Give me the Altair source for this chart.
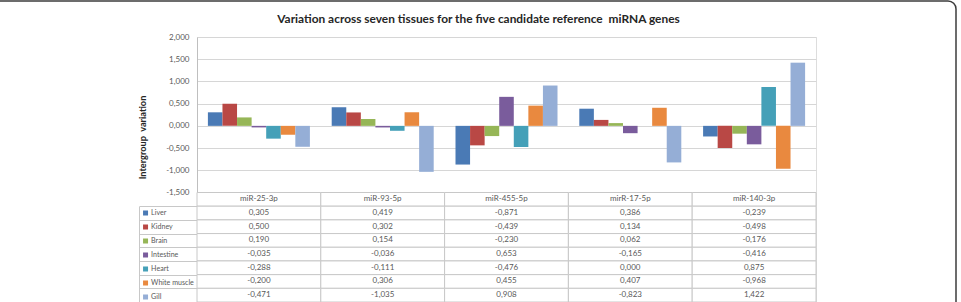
import altair as alt
import pandas as pd

# miRNA genes (columns) and tissues (series)
genes = ["miR-25-3p", "miR-93-5p", "miR-455-5p", "mirR-17-5p", "miR-140-3p"]
tissues = ["Liver", "Kidney", "Brain", "Intestine", "Heart", "White muscle", "Gill"]

# intergroup variation per tissue, one value per gene
liver = [0.305, 0.419, -0.871, 0.386, -0.239]
kidney = [0.500, 0.302, -0.439, 0.134, -0.498]
brain = [0.190, 0.154, -0.230, 0.062, -0.176]
intestine = [-0.035, -0.036, 0.653, -0.165, -0.416]
heart = [-0.288, -0.111, -0.476, 0.000, 0.875]
white_muscle = [-0.200, 0.306, 0.455, 0.407, -0.968]
gill = [-0.471, -1.035, 0.908, -0.823, 1.422]

tissue_colors = ["#4a7ab5", "#b94845", "#96b657", "#7a5c9c", "#45a0b8", "#e9893f", "#95aed6"]
y_ticks = [-1.5, -1.0, -0.5, 0.0, 0.5, 1.0, 1.5, 2.0]

# non-breaking space keeps the double gap before "miRNA" in SVG text
TITLE = "Variation across seven tissues for the five candidate reference \u00a0miRNA genes"
FONT = "Lato"
TEXT_GREY = "#595959"
LINE_GREY = "#c8c8c8"

series = [liver, kidney, brain, intestine, heart, white_muscle, gill]
records = []
for tissue, vals in zip(tissues, series):
    for gene, v in zip(genes, vals):
        records.append({
            "gene": gene,
            "tissue": tissue,
            "value": v,
            "label": f"{v:.3f}".replace(".", ",").replace("-0,000", "0,000"),
        })
df = pd.DataFrame(records)

rows = ["header"] + tissues
cells_df = pd.DataFrame([{"gene": g, "row": r} for r in rows for g in genes])
header_df = pd.DataFrame({"gene": genes, "row": ["header"] * len(genes)})

# layout of the single view: bar panel on top, data table underneath
W = 619
H = 265
BARS_H = 155.5
ROW_H = (H - BARS_H) / len(rows)
KEY_W = 58  # width of the legend-key column to the left of the table

table_x = alt.X("gene:N", sort=genes, scale=alt.Scale(paddingInner=0, paddingOuter=0), axis=None)

bars = alt.Chart(df).mark_bar().encode(
    x=alt.X("gene:N", sort=genes,
            scale=alt.Scale(paddingInner=0.176, paddingOuter=0.088), axis=None),
    xOffset=alt.XOffset("tissue:N", sort=tissues,
                        scale=alt.Scale(paddingInner=0, paddingOuter=0)),
    y=alt.Y("value:Q",
            scale=alt.Scale(domain=[-1.5, 2.0], range=[BARS_H, 0], nice=False),
            axis=alt.Axis(
                values=y_ticks,
                labelExpr="replace(replace(format(datum.value, '.3f'), '.', ','), '\u2212', '-')",
                grid=True, gridColor="#d6d6d6", gridWidth=1,
                domainColor="#bfbfbf", ticks=False, tickSize=0, labelPadding=8,
                labelFont=FONT, labelFontSize=8, labelColor=TEXT_GREY,
                title="Intergroup \u00a0variation", titleFont=FONT, titleFontSize=9.2,
                titleFontWeight="bold", titleColor="#262626",
                titleAngle=270, titleX=-55, titleY=100,
                titleAlign="center", titleBaseline="middle",
            )),
    color=alt.Color("tissue:N", sort=tissues,
                    scale=alt.Scale(domain=tissues, range=tissue_colors),
                    legend=alt.Legend(
                        orient="none", legendX=-55, legendY=BARS_H + ROW_H,
                        title=None, symbolType="square", symbolSize=25,
                        symbolStrokeWidth=0, labelFont=FONT, labelFontSize=7.1,
                        labelColor=TEXT_GREY, labelOffset=2,
                        clipHeight=ROW_H, rowPadding=0, padding=0,
                    )),
)

cells = alt.Chart(cells_df).mark_rect(fill="white", stroke=LINE_GREY, strokeWidth=1).encode(
    x=table_x,
    y=alt.Y("row:N", sort=rows,
            scale=alt.Scale(domain=rows, range=[BARS_H, H], paddingInner=0, paddingOuter=0),
            axis=None),
)

header = alt.Chart(header_df).mark_text(font=FONT, fontSize=8, color=TEXT_GREY).encode(
    x=table_x,
    y=alt.Y("row:N", sort=rows,
            scale=alt.Scale(domain=rows, range=[BARS_H, H], paddingInner=0, paddingOuter=0),
            axis=None),
    text="gene:N",
)

# value cells; their row axis draws the row rules of the legend-key column
values = alt.Chart(df).mark_text(font=FONT, fontSize=8, color=TEXT_GREY).encode(
    x=table_x,
    y=alt.Y("tissue:N", sort=tissues,
            scale=alt.Scale(domain=tissues, range=[BARS_H + ROW_H, H],
                            paddingInner=0, paddingOuter=0),
            axis=alt.Axis(orient="right", offset=-(W + KEY_W), labels=False,
                          tickBand="extent", tickSize=KEY_W, tickColor=LINE_GREY,
                          domainColor=LINE_GREY, title=None, grid=False)),
    text="label:N",
)

# rounded frame around the figure
frame = alt.Chart(pd.DataFrame({"k": [0]})).mark_rect(
    fillOpacity=0, stroke="#3c3c3c", strokeWidth=1.5, cornerRadius=8
).encode(x=alt.value(-400), x2=alt.value(759), y=alt.value(-36), y2=alt.value(600))

chart = alt.layer(cells, header, values, bars, frame).resolve_scale(
    x="independent", y="independent"
).properties(
    width=W, height=H,
    title=alt.Title(TITLE, font=FONT, fontSize=11.9, fontWeight="bold", color="#262626",
                    anchor="middle", frame="group", dx=-28, dy=32, offset=6),
    autosize=alt.AutoSizeParams(type="none"),
    padding={"left": 197, "top": 37, "right": 145, "bottom": 0},
).configure_view(stroke=None).configure(background="white")

chart.save("out.html", embed_options={"renderer": "svg", "actions": False})
